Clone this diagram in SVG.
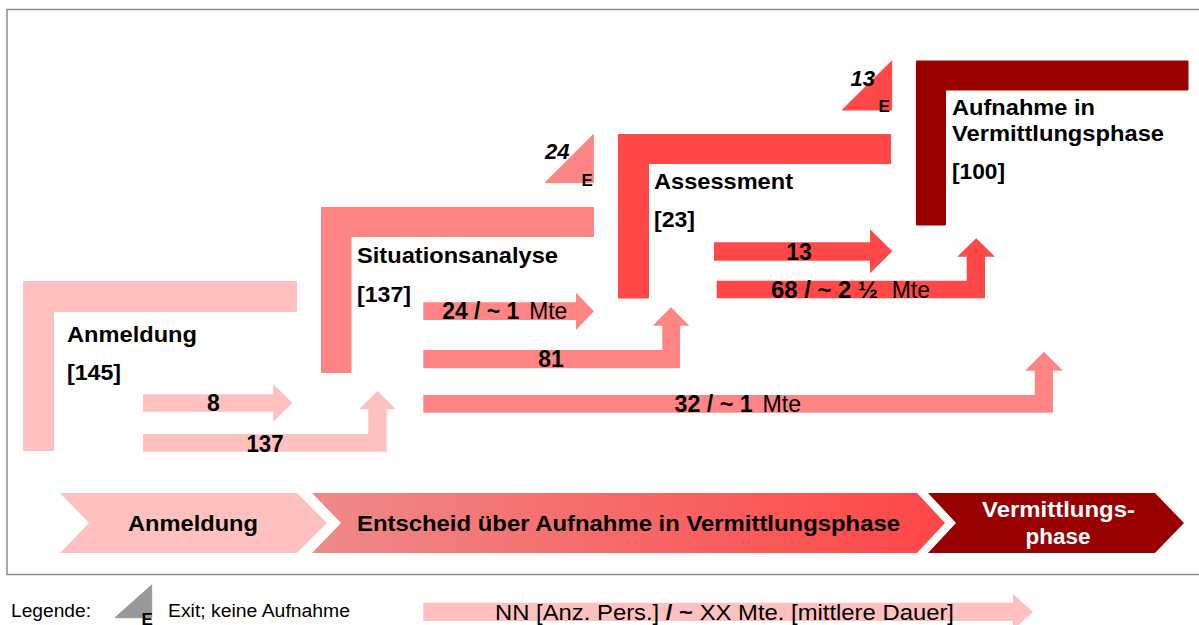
<svg xmlns="http://www.w3.org/2000/svg" width="1199" height="625" viewBox="0 0 1199 625">
<defs>
<style>
text{font-family:"Liberation Sans",Arial,sans-serif;fill:#000}
.lbl{font-size:22px;font-weight:bold}
.al{font-size:23px;font-weight:bold}
.rg{font-weight:normal}
.ex{font-size:22px;font-weight:bold;font-style:italic}
.e{font-size:17px;font-weight:bold}
.lg{font-size:18px}
.c1{fill:#FFC0C0;stroke:#FFC0C0;stroke-width:1;stroke-linejoin:round}
.c2{fill:#FF8585;stroke:#FF8585;stroke-width:1;stroke-linejoin:round}
.c3{fill:#FF4848;stroke:#FF4848;stroke-width:1;stroke-linejoin:round}
.c4{fill:#990000;stroke:#990000;stroke-width:1;stroke-linejoin:round}
.arr1{fill:#FFC0C0}
.arr2{fill:#FF8585}
.arr3{fill:#FF4848}
</style>
<linearGradient id="gEnt" x1="0" y1="0" x2="1" y2="0">
<stop offset="0" stop-color="#EF8A8A"/>
<stop offset="1" stop-color="#FF4646"/>
</linearGradient>
</defs>
<rect x="7" y="9.5" width="1200" height="565" fill="#fff" stroke="#8C8C8C" stroke-width="1.5"/>

<g id="node-anmeldung">
<path class="c1" d="M23.5,281.5 H296.5 V311.5 H53.5 V450.5 H23.5 Z"/>
<text class="lbl" x="67" y="342" textLength="130" lengthAdjust="spacingAndGlyphs">Anmeldung</text>
<text class="lbl" x="67" y="380" textLength="54" lengthAdjust="spacingAndGlyphs">[145]</text>
</g>

<g id="node-situationsanalyse">
<path class="c2" d="M321.5,207.5 H593.5 V236.5 H351 V372.5 H321.5 Z"/>
<text class="lbl" x="357" y="263" textLength="201" lengthAdjust="spacingAndGlyphs">Situationsanalyse</text>
<text class="lbl" x="357" y="302" textLength="54" lengthAdjust="spacingAndGlyphs">[137]</text>
</g>

<g id="node-assessment">
<path class="c3" d="M618.5,134.5 H890.5 V163.5 H648.5 V298 H618.5 Z"/>
<text class="lbl" x="654" y="189" textLength="139" lengthAdjust="spacingAndGlyphs">Assessment</text>
<text class="lbl" x="654" y="227" textLength="41" lengthAdjust="spacingAndGlyphs">[23]</text>
</g>

<g id="node-aufnahme">
<path class="c4" d="M916.5,61 H1188 V90 H945.5 V225 H916.5 Z"/>
<text class="lbl" x="952" y="115" textLength="143" lengthAdjust="spacingAndGlyphs">Aufnahme in</text>
<text class="lbl" x="952" y="141" textLength="212" lengthAdjust="spacingAndGlyphs">Vermittlungsphase</text>
<text class="lbl" x="952" y="179" textLength="53" lengthAdjust="spacingAndGlyphs">[100]</text>
</g>

<g id="exit-24">
<polygon class="c2" points="593.3,134.5 545,182.7 593.3,182.7"/>
<text class="ex" x="545" y="159">24</text>
<text class="e" x="581.5" y="186">E</text>
</g>

<g id="exit-13">
<polygon class="c3" points="891.7,61 842.3,110 891.7,110"/>
<text class="ex" x="850.5" y="86">13</text>
<text class="e" x="878.5" y="112">E</text>
</g>

<g id="connectors">
<polygon class="arr1" points="143,394.3 273.3,394.3 273.3,384 292.3,403 273.3,421.7 273.3,411.7 143,411.7"/>
<text class="al" x="213.5" y="411" text-anchor="middle">8</text>

<polygon class="arr1" points="143,434 368.3,434 368.3,409.3 359,409.3 377.5,391 396,409.3 386.7,409.3 386.7,451.7 143,451.7"/>
<text class="al" x="265" y="452" text-anchor="middle" textLength="37" lengthAdjust="spacingAndGlyphs">137</text>

<polygon class="arr2" points="423.3,302.3 576,302.3 576,292.7 594,311.3 576,330 576,320 423.3,320"/>
<text class="al" y="318.5"><tspan x="442.3" textLength="77" lengthAdjust="spacingAndGlyphs">24 / ~ 1</tspan><tspan class="rg" x="529.3" textLength="38" lengthAdjust="spacingAndGlyphs">Mte</tspan></text>

<polygon class="arr2" points="423.3,350 662.3,350 662.3,325.7 652.7,325.7 671,307.3 689.3,325.7 680,325.7 680,368.3 423.3,368.3"/>
<text class="al" x="551" y="367" text-anchor="middle">81</text>

<polygon class="arr2" points="423.3,395 1034.8,395 1034.8,370.7 1025,370.7 1044,351.7 1063,370.7 1053,370.7 1053,412.7 423.3,412.7"/>
<text class="al" y="412"><tspan x="674.6" textLength="78" lengthAdjust="spacingAndGlyphs">32 / ~ 1</tspan><tspan class="rg" x="762.5" textLength="38.5" lengthAdjust="spacingAndGlyphs">Mte</tspan></text>

<polygon class="arr3" points="714,242.3 870,242.3 870,229.3 892.3,251.3 870,273.3 870,260.7 714,260.7"/>
<text class="al" x="799" y="259.5" text-anchor="middle">13</text>

<polygon class="arr3" points="716.7,280.7 966.7,280.7 966.7,256.7 957.3,256.7 976.2,238.3 995,256.7 985,256.7 985,298.3 716.7,298.3"/>
<text class="al" y="297.5"><tspan x="771" textLength="107" lengthAdjust="spacingAndGlyphs">68 / ~ 2 ½</tspan><tspan class="rg" x="891.7" textLength="38.3" lengthAdjust="spacingAndGlyphs">Mte</tspan></text>
</g>

<g id="phases">
<polygon fill="#FFC0C0" points="60,493 297,493 327,523 297,553 60,553 89,523"/>
<polygon fill="url(#gEnt)" points="312,493 917,493 945,523 917,553 312,553 341,523"/>
<polygon fill="#990000" points="928,493 1155,493 1184,523 1155,553 928,553 956,523"/>
<text class="lbl" x="193" y="531" text-anchor="middle" textLength="130" lengthAdjust="spacingAndGlyphs">Anmeldung</text>
<text class="lbl" x="628.5" y="531" text-anchor="middle" textLength="543" lengthAdjust="spacingAndGlyphs">Entscheid über Aufnahme in Vermittlungsphase</text>
<text class="lbl" x="1058.5" y="517" text-anchor="middle" textLength="153" lengthAdjust="spacingAndGlyphs" style="fill:#fff">Vermittlungs-</text>
<text class="lbl" x="1058" y="544" text-anchor="middle" textLength="65" lengthAdjust="spacingAndGlyphs" style="fill:#fff">phase</text>
</g>

<g id="legend">
<text class="lg" x="11" y="616.5" textLength="80" lengthAdjust="spacingAndGlyphs">Legende:</text>
<polygon fill="#999999" stroke="#999999" stroke-width="1" stroke-linejoin="round" points="151.7,585 115,617.7 151.7,617.7"/>
<text class="e" x="141.5" y="625">E</text>
<text class="lg" x="168" y="616.5" textLength="182" lengthAdjust="spacingAndGlyphs">Exit; keine Aufnahme</text>
<polygon class="arr1" points="423.3,602.7 1013,602.7 1013,594 1033,612 1013,630 1013,621 423.3,621"/>
<text style="font-size:22px" x="495" y="620" textLength="459" lengthAdjust="spacingAndGlyphs">NN [Anz. Pers.] <tspan font-weight="bold">/ ~</tspan> XX Mte. [mittlere Dauer]</text>
</g>
</svg>
